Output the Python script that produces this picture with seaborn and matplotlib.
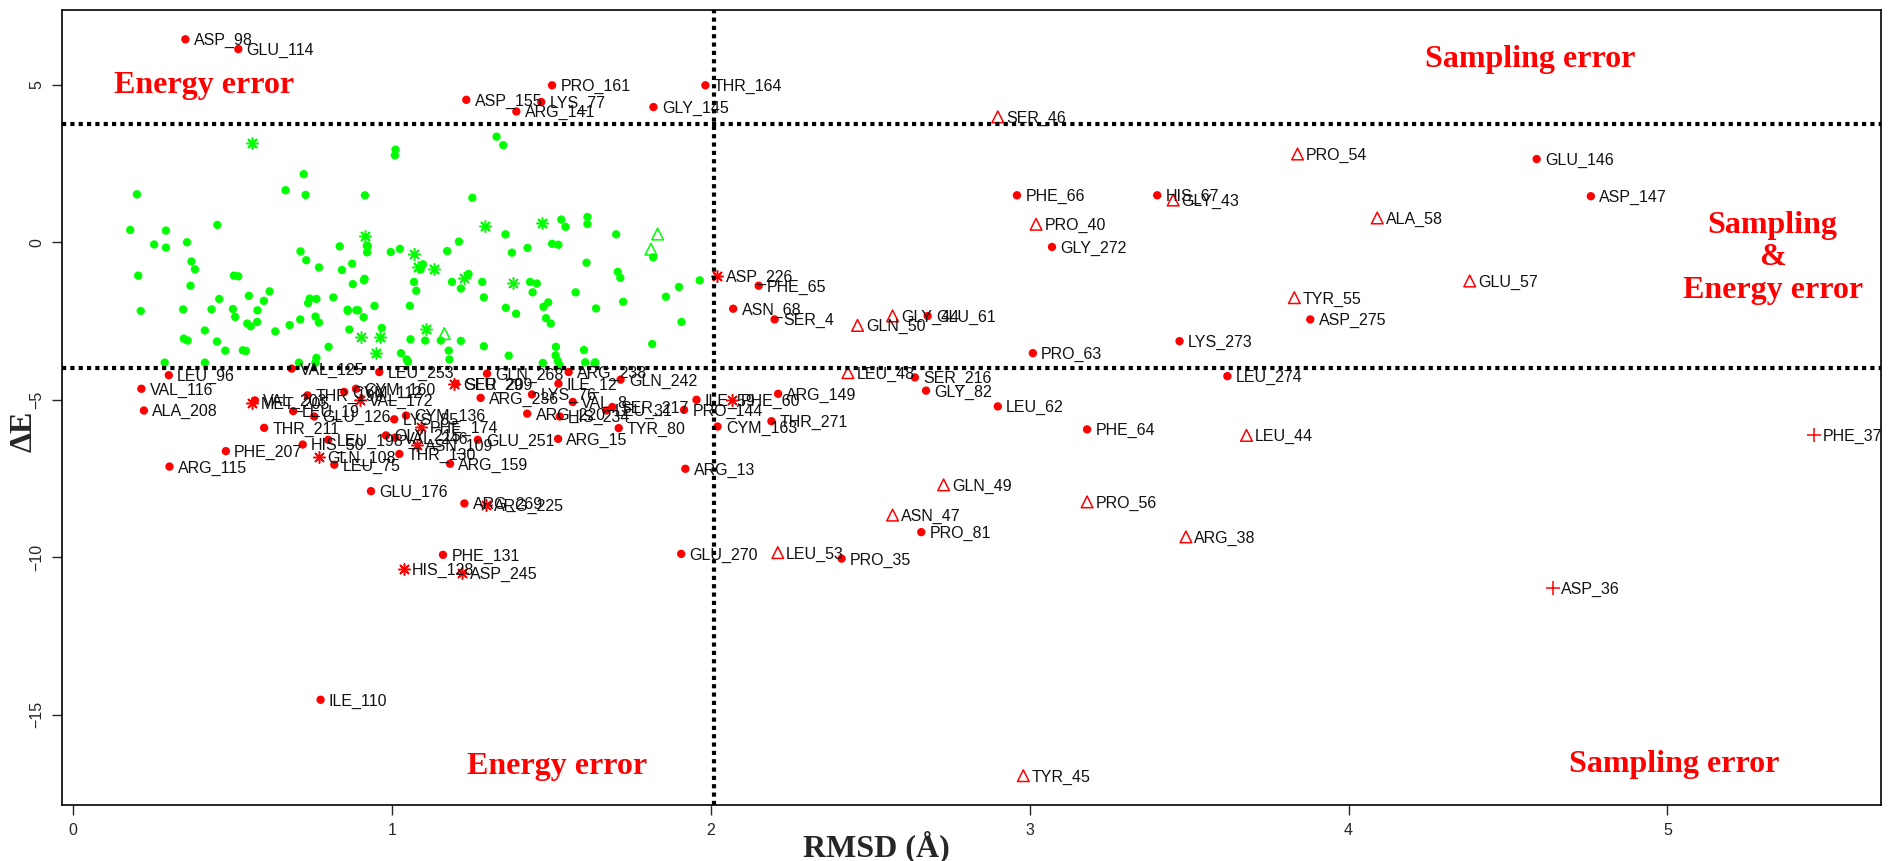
import pandas as pd
import seaborn as sns
import matplotlib.pyplot as plt

# red residues: label, RMSD, dE, marker kind
res_labels = [
    "ASP_98", "GLU_114", "PRO_161", "THR_164", "ASP_155", "LYS_77", "ARG_141", "GLY_145",
    "GLU_146", "PHE_66", "HIS_67", "ASP_147", "GLY_272", "ASP_275", "LYS_273", "PRO_63",
    "PHE_65", "ASN_68", "SER_4", "GLU_61", "SER_216", "GLY_82", "LEU_62", "PHE_64",
    "LEU_274", "PRO_81", "PRO_35", "GLU_270", "PHE_131", "ILE_110", "ARG_13", "CYM_163",
    "THR_271", "PRO_144", "ARG_149", "ILE_59", "GLU_176", "ARG_269", "ARG_159", "GLU_251",
    "ARG_15", "TYR_80", "HIS_234", "ARG_220", "SER_217", "LEU_31", "VAL_8", "LYS_76",
    "ARG_236", "GLN_242", "ILE_12", "ARG_238", "GLN_268", "LEU_253", "VAL_125", "LEU_96",
    "VAL_116", "ALA_208", "THR_211", "PHE_207", "ARG_115", "HIS_50", "LEU_75", "THR_130",
    "VAL_203", "THR_199", "CYM_160", "CYM_112", "LEU_19", "GLU_126", "LYS_85", "CYM_136",
    "LEU_198", "GLY_215", "VAL_246", "SER_209",
    "SER_46", "PRO_54", "GLY_43", "PRO_40", "ALA_58", "GLU_57", "TYR_55", "GLN_50",
    "GLY_44", "LEU_48", "LEU_53", "ASN_47", "GLN_49", "PRO_56", "ARG_38", "LEU_44", "TYR_45",
    "ASP_226", "PHE_60", "HIS_128", "ASP_245", "ARG_225", "GLN_108", "ASN_109", "PHE_174",
    "VAL_172", "MET_205", "GLU_29",
    "PHE_37", "ASP_36",
]
res_rmsd = [
    0.352, 0.518, 1.502, 1.983, 1.233, 1.468, 1.39, 1.82,
    4.59, 2.96, 3.40, 4.76, 3.07, 3.88, 3.47, 3.01,
    2.15, 2.07, 2.20, 2.68, 2.64, 2.675, 2.90, 3.18,
    3.62, 2.66, 2.41, 1.907, 1.16, 0.776, 1.92, 2.021,
    2.19, 1.916, 2.211, 1.955, 0.934, 1.227, 1.182, 1.269,
    1.521, 1.711, 1.526, 1.424, 1.691, 1.672, 1.567, 1.439,
    1.278, 1.717, 1.522, 1.554, 1.298, 0.96, 0.685, 0.30,
    0.214, 0.222, 0.599, 0.479, 0.302, 0.72, 0.819, 1.023,
    0.570, 0.735, 0.887, 0.85, 0.69, 0.756, 1.007, 1.044,
    0.80, 0.981, 1.01, 1.20,
    2.90, 3.84, 3.45, 3.02, 4.09, 4.38, 3.83, 2.46,
    2.57, 2.43, 2.21, 2.57, 2.73, 3.18, 3.49, 3.68, 2.98,
    2.02, 2.067, 1.037, 1.218, 1.295, 0.772, 1.078, 1.091,
    0.90, 0.562, 1.196,
    5.46, 4.64,
]
res_energy = [
    6.44, 6.13, 4.98, 4.98, 4.52, 4.45, 4.15, 4.29,
    2.64, 1.49, 1.49, 1.46, -0.15, -2.45, -3.14, -3.52,
    -1.38, -2.11, -2.45, -2.34, -4.29, -4.71, -5.21, -5.94,
    -4.25, -9.2, -10.04, -9.89, -9.92, -14.52, -7.19, -5.85,
    -5.68, -5.32, -4.81, -5.0, -7.90, -8.29, -7.03, -6.27,
    -6.24, -5.90, -5.53, -5.44, -5.23, -5.34, -5.07, -4.83,
    -4.94, -4.36, -4.49, -4.12, -4.17, -4.12, -4.01, -4.22,
    -4.65, -5.34, -5.89, -6.63, -7.12, -6.42, -7.06, -6.72,
    -5.02, -4.86, -4.65, -4.75, -5.36, -5.53, -5.62, -5.50,
    -6.27, -6.13, -6.20, -4.49,
    3.98, 2.80, 1.34, 0.57, 0.77, -1.23, -1.76, -2.64,
    -2.34, -4.14, -9.85, -8.66, -7.70, -8.24, -9.35, -6.13, -16.93,
    -1.07, -5.02, -10.38, -10.5, -8.33, -6.82, -6.45, -5.85,
    -5.02, -5.10, -4.49,
    -6.13, -10.96,
]
res_kind = (["dot"] * 76 + ["tri"] * 17 + ["star"] * 11 + ["plus"] * 2)

# green residues (no labels)
green_rmsd = [
    0.179, 0.200, 0.204, 0.212, 0.254, 0.291, 0.291, 0.287, 0.345, 0.347,
    0.357, 0.359, 0.368, 0.371, 0.382, 0.413, 0.413, 0.434, 0.452, 0.451,
    0.458, 0.477, 0.501, 0.504, 0.508, 0.518, 0.532, 0.542, 0.546, 0.551,
    0.557, 0.577, 0.578, 0.598, 0.616, 0.634, 0.666, 0.679, 0.708, 0.712,
    0.713, 0.723, 0.731, 0.737, 0.729, 0.760, 0.742, 0.763, 0.760, 0.763,
    0.771, 0.771, 0.801, 0.816, 0.836, 0.843, 0.861, 0.861, 0.866, 0.875,
    0.877, 0.888, 0.894, 0.911, 0.912, 0.915, 0.914, 0.921, 0.922, 0.924,
    0.945, 0.968, 0.996, 1.009, 1.011, 1.025, 1.028, 1.046, 1.050, 1.058,
    1.056, 1.069, 1.076, 1.090, 1.097, 1.104, 1.153, 1.173, 1.178, 1.180,
    1.188, 1.210, 1.216, 1.216, 1.240, 1.252, 1.283, 1.288, 1.288, 1.328,
    1.349, 1.356, 1.357, 1.366, 1.376, 1.389, 1.425, 1.433, 1.441, 1.454,
    1.475, 1.483, 1.490, 1.498, 1.502, 1.513, 1.514, 1.520, 1.522, 1.531,
    1.544, 1.576, 1.602, 1.606, 1.610, 1.613, 1.613, 1.640, 1.637, 1.703,
    1.708, 1.716, 1.725, 1.816, 1.819, 1.859, 1.900, 1.908, 1.965, 1.473,
    1.526, 1.635,
]
green_energy = [
    0.39, 1.52, -1.06, -2.18, -0.07, 0.37, -0.17, -3.82, -2.13, -3.06,
    0.00, -3.12, -1.38, -0.61, -0.86, -2.80, -3.82, -2.13, 0.55, -3.15,
    -1.80, -3.44, -2.12, -1.06, -2.37, -1.08, -3.43, -3.45, -2.58, -1.70,
    -2.67, -2.53, -2.16, -1.86, -1.56, -2.83, 1.65, -2.63, -3.82, -2.45,
    -0.29, 2.16, -0.57, -1.93, 1.50, -3.82, -1.79, -1.80, -2.36, -3.67,
    -0.80, -2.55, -3.32, -1.75, -0.13, -0.88, -2.14, -2.18, -2.77, -0.68,
    -1.33, -2.16, -2.16, -2.38, -1.21, 1.49, -1.16, -0.11, -0.32, -0.12,
    -2.02, -2.72, -0.31, 2.76, 2.94, -0.21, -3.52, -3.72, -3.79, -3.08,
    -2.02, -1.26, -1.54, -0.86, -0.70, -3.12, -3.12, -0.28, -3.44, -3.72,
    -1.26, 0.02, -3.13, -1.47, -1.01, 1.41, -1.26, -1.75, -3.30, 3.35,
    3.08, 0.25, -2.08, -3.60, -0.33, -2.27, -0.18, -1.26, -1.59, -1.31,
    -2.05, -2.41, -1.91, -2.58, -0.05, -3.59, -3.32, -3.77, -0.08, 0.72,
    0.49, -1.59, -3.42, -3.81, -0.65, 0.80, 0.58, -2.10, -3.81, 0.25,
    -0.94, -1.13, -1.89, -3.23, -0.48, -1.73, -1.42, -2.53, -1.21, -3.83,
    -3.91, -3.85,
]
green_star_rmsd = [0.561, 0.914, 1.069, 1.080, 1.132, 1.226, 1.292, 1.380, 1.471, 0.904, 0.963, 0.950, 1.108]
green_star_energy = [3.15, 0.20, -0.36, -0.80, -0.84, -1.15, 0.53, -1.29, 0.62, -3.01, -3.02, -3.50, -2.75]
green_tri_rmsd = [1.833, 1.812, 1.164]
green_tri_energy = [0.26, -0.22, -2.90]

# quadrant notes
notes = ["Energy error", "Sampling error", "Sampling\n&\nEnergy error", "Energy error", "Sampling error"]
note_x = [0.41, 4.57, 5.33, 1.517, 5.02]
note_y = [4.98, 5.79, -0.5, -16.63, -16.59]

rmsd_cut = 2.01
energy_cuts = [3.75, -3.98]

df = pd.DataFrame({"label": res_labels, "rmsd": res_rmsd, "dE": res_energy, "kind": res_kind})
green = pd.DataFrame({"rmsd": green_rmsd, "dE": green_energy})
green_star = pd.DataFrame({"rmsd": green_star_rmsd, "dE": green_star_energy})
green_tri = pd.DataFrame({"rmsd": green_tri_rmsd, "dE": green_tri_energy})

sns.set_theme(style="white")
plt.rcParams["font.family"] = ["Liberation Sans", "DejaVu Sans"]

fig = plt.figure(figsize=(18.89, 8.61), dpi=100)
ax = fig.add_axes([62 / 1889, 56 / 861, 1819 / 1889, 795 / 861])

# green points
sns.scatterplot(data=green, x="rmsd", y="dE", ax=ax, color="#00ff00", s=36, edgecolor="none", legend=False)
sns.scatterplot(data=green_star, x="rmsd", y="dE", ax=ax, color="#00ff00", marker=(8, 2, 0), s=70, linewidth=1.1, legend=False)
sns.scatterplot(data=green_tri, x="rmsd", y="dE", ax=ax, color="#00ff00", marker="^", facecolor="none",
                edgecolor="#00ff00", s=70, linewidth=1.1, legend=False)

# red points
sns.scatterplot(data=df[df.kind == "dot"], x="rmsd", y="dE", ax=ax, color="red", s=36, edgecolor="none", legend=False)
sns.scatterplot(data=df[df.kind == "tri"], x="rmsd", y="dE", ax=ax, color="red", marker="^", facecolor="none",
                edgecolor="red", s=70, linewidth=1.1, legend=False)
sns.scatterplot(data=df[df.kind == "star"], x="rmsd", y="dE", ax=ax, color="red", marker=(8, 2, 0), s=70, linewidth=1.1, legend=False)
sns.scatterplot(data=df[df.kind == "plus"], x="rmsd", y="dE", ax=ax, color="red", marker="+", s=110, linewidth=1.1, legend=False)

for _, r in df.iterrows():
    ax.annotate(r["label"], (r["rmsd"], r["dE"]), xytext=(6, -1), textcoords="offset points",
                ha="left", va="center", fontsize=11.5, color="#111111")

# cut lines
ax.axvline(rmsd_cut, color="black", lw=3, linestyle=(0, (1, 1)))
for yc in energy_cuts:
    ax.axhline(yc, color="black", lw=3, linestyle=(0, (1, 1)))

for t, x, y in zip(notes, note_x, note_y):
    ax.text(x, y, t, ha="center", va="center", color="red", fontsize=23, fontweight="bold",
            family="Liberation Serif", linespacing=1.15)

ax.set_xlim(-0.035, 5.67)
ax.set_ylim(-17.86, 7.37)
ax.set_xticks([0, 1, 2, 3, 4, 5])
ax.set_yticks([-15, -10, -5, 0, 5])
ax.tick_params(direction="out", length=7, width=1, labelsize=11.5, pad=6, bottom=True, left=True)
for lab in ax.get_yticklabels():
    lab.set_rotation(90)
    lab.set_va("center")
for sp in ax.spines.values():
    sp.set_color("black")
    sp.set_linewidth(1.2)

ax.set_xlabel("RMSD (Å)", fontsize=23, fontweight="bold", family="Liberation Serif", va="center")
ax.set_ylabel("ΔE", fontsize=23, fontweight="bold", family="Liberation Serif", va="center")
ax.xaxis.set_label_coords(0.4475, -0.053)
ax.yaxis.set_label_coords(-0.021, 0.47)

plt.savefig("out.png", dpi=100)
plt.close()
